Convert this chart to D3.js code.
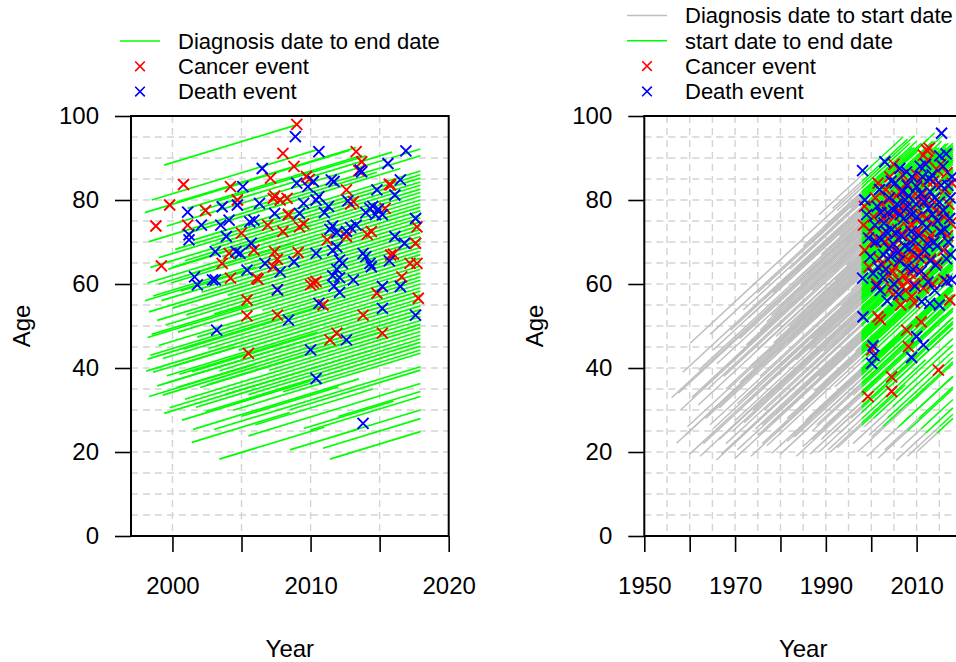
<!DOCTYPE html>
<html>
<head>
<meta charset="utf-8">
<script src="https://cdn.jsdelivr.net/npm/d3@7"></script>
<style>
html,body{margin:0;padding:0;background:#fff;}
svg{display:block;font-family:"Liberation Sans",Arial,Helvetica,sans-serif;}
</style>
</head>
<body>
<svg id="chart" width="956" height="662"></svg>
<script>
// ---------------- DATA ----------------
// Left panel: lines from diagnosis date to end date: [startYear, startAge, endYear]
const leftLines = [
  [1999.4,88.3,2009.0],[1998.5,80.0,2010.5],[2000.3,79.5,2013.3],[1998.0,77.0,2012.8],
  [2001.1,78.0,2013.7],[1999.6,73.8,2015.5],[2002.0,77.5,2015.9],[2015.8,90.0,2017.95],
  [2005.0,77.6,2017.95],[2003.3,79.8,2014.0],[1998.3,70.1,2014.8],[2001.0,72.0,2016.5],
  [2001.5,70.45,2017.95],[2000.2,68.25,2017.95],[1999.0,66.25,2017.95],[2002.8,69.15,2017.95],
  [1998.4,63.95,2017.95],[2000.9,65.55,2017.95],[1999.7,63.55,2017.95],[2003.6,66.55,2017.95],
  [1998.2,60.25,2017.95],[2001.3,62.45,2017.95],[1999.9,60.25,2017.95],[2005.2,64.65,2017.95],
  [1998.6,57.15,2017.95],[2000.6,58.35,2017.95],[1999.2,56.05,2017.95],[2002.1,58.05,2017.95],
  [1998.3,53.35,2017.95],[2000.0,54.25,2017.95],[2004.0,57.35,2017.95],[1998.9,51.35,2017.95],
  [2001.0,52.65,2017.95],[1999.5,50.25,2017.95],[2003.0,52.85,2017.95],[1998.2,47.25,2017.95],
  [2000.4,48.55,2017.95],[2006.5,53.75,2017.95],[1999.0,45.35,2017.95],[2001.8,47.35,2017.95],
  [1998.4,43.05,2017.95],[2000.8,44.55,2017.95],[1999.3,42.25,2017.95],[2002.6,44.65,2017.95],
  [1998.1,39.25,2017.95],[2000.1,40.45,2017.95],[2004.8,44.25,2017.95],[1999.6,38.15,2017.95],
  [2001.4,39.15,2017.95],[1998.9,35.75,2017.95],[2003.4,39.35,2017.95],[2000.3,35.35,2017.95],
  [1999.3,33.55,2017.95],[2002.0,35.35,2017.95],[2007.0,39.45,2017.95],[2000.9,32.55,2017.95],
  [1999.8,30.55,2017.95],[2003.8,33.65,2017.95],[2001.7,30.65,2017.95],[2005.5,33.65,2017.95],
  [2002.4,29.65,2017.95],[2008.0,34.35,2017.95],[2004.4,29.95,2017.95],
  [2003.0,25.35,2017.95],[2008.5,30.05,2017.95],[2005.5,23.85,2017.95],[2012.0,28.45,2017.95],
  [2010.0,25.25,2017.95],[2013.0,25.05,2017.95],[2010.9,20.9,2017.95],[2011.4,18.3,2017.95],
  [1998.2,42.1,2009.5],[1999.6,36.5,2012.5],[1998.3,33.2,2006.0],[1999.4,29.2,2014.5],
  [2000.7,27.6,2010.0],[2001.5,25.4,2013.5],[2001.4,22.3,2008.5],[2003.4,18.3,2011.0],
  [2008.5,20.5,2013.5],[2009.5,25.6,2016.0],[2005.0,28.5,2012.0],[2004.0,31.0,2009.0],
  [2006.0,26.5,2014.5],[2000.5,38.5,2010.5],[2002.5,36.0,2015.0],[1998.6,39.0,2004.5],
  [1998.0,56.0,2006.0],[1999.0,60.0,2008.8],[2000.0,64.0,2010.0],[2001.0,45.0,2011.0],
  [1998.5,48.0,2005.5]
];
// Left panel cancer events: [year, age]
const leftCancer = [
  [1998.8,73.8],[1999.2,64.3],[2000.8,83.7],[1999.8,78.8],[2001.1,74.0],[2002.4,77.5],[2004.2,83.2],
  [2004.7,80.0],[2005.0,72.1],[2003.6,64.9],[2004.1,67.3],[2004.2,61.4],[2005.4,56.2],[2005.4,52.4],
  [2005.5,43.5],[2006.1,61.4],[2005.9,68.1],[2006.9,74.0],[2007.1,85.2],[2007.3,80.4],[2007.8,80.0],
  [2008.3,80.4],[2008.0,91.1],[2008.8,88.0],[2009.0,98.0],[2007.4,67.7],[2007.3,64.1],[2007.6,58.6],
  [2007.6,52.6],[2008.0,72.5],[2008.4,76.4],[2009.2,73.6],[2009.5,74.3],[2009.7,85.6],[2009.9,84.9],
  [2010.2,60.2],[2010.0,59.8],[2010.4,60.6],[2010.9,55.0],[2011.2,70.5],[2011.4,46.7],[2011.9,48.3],
  [2012.6,82.4],[2012.6,71.3],[2013.1,79.6],[2013.3,91.5],[2013.7,89.1],[2013.5,87.0],[2013.8,52.6],
  [2014.4,72.5],[2014.8,57.8],[2015.2,48.3],[2015.4,78.0],[2015.8,83.6],[2015.8,66.9],[2016.0,67.1],
  [2016.6,61.7],[2017.2,64.9],[2017.7,73.6],[2017.6,69.7],[2017.7,64.9],[2017.8,56.6],[2006.2,61.1],
  [2009.1,67.5],[2012.9,79.0],[2014.1,71.8],[2015.7,83.7],[2007.4,81.0],[2008.4,76.6],[2007.6,65.9]
];
// Left panel death events: [year, age]
const leftDeath = [
  [2001.1,77.1],[2001.2,71.7],[2001.2,70.5],[2002.1,74.0],[2001.6,61.7],[2001.8,59.8],[2003.1,67.7],
  [2003.6,78.4],[2003.5,74.0],[2004.1,75.2],[2003.9,71.3],[2002.9,61.0],[2003.1,61.0],[2003.2,49.0],
  [2004.7,78.8],[2005.1,83.2],[2004.6,67.7],[2004.9,67.3],[2005.4,63.3],[2005.6,74.8],[2005.9,75.2],
  [2005.7,69.7],[2006.5,87.5],[2006.3,79.2],[2006.7,64.9],[2007.4,76.8],[2007.8,62.9],[2007.6,58.6],
  [2008.4,51.4],[2008.9,95.1],[2009.0,84.0],[2008.8,65.3],[2009.5,79.2],[2009.2,76.8],[2009.8,83.2],
  [2010.2,84.4],[2010.6,91.5],[2010.4,80.0],[2010.6,80.8],[2010.4,67.3],[2010.0,44.3],[2010.4,37.5],
  [2010.6,55.4],[2011.0,77.0],[2011.3,78.5],[2011.4,73.0],[2011.6,73.8],[2011.9,72.2],[2011.5,84.8],
  [2011.7,84.4],[2011.6,68.0],[2011.9,68.8],[2011.6,62.0],[2011.9,63.5],[2012.1,61.5],[2011.7,59.5],
  [2012.1,58.0],[2012.1,65.7],[2012.3,64.9],[2012.6,46.7],[2012.6,72.5],[2012.9,73.5],[2013.3,74.0],
  [2012.7,79.8],[2013.1,61.0],[2013.6,87.1],[2013.7,86.7],[2013.8,67.3],[2014.0,66.5],[2014.0,77.0],
  [2014.3,78.0],[2014.5,78.5],[2014.7,76.5],[2014.9,77.8],[2015.2,76.5],[2014.3,64.9],[2014.4,64.1],
  [2014.8,82.4],[2015.2,59.4],[2015.2,54.2],[2013.8,26.8],[2015.6,88.7],[2016.1,81.2],[2016.1,71.3],
  [2016.5,84.8],[2016.5,59.4],[2016.8,69.7],[2016.9,91.7],[2017.6,75.6],[2017.6,52.6],[2015.7,65.5]
];
// Right panel subjects: [diagnosisYear, diagnosisAge, startYear, endYear]
const rightSubjects = [
  [1956.0,32.9,1997.9,2016.5],[1957.1,22.1,1997.9,2018.0],[1960.1,45.9,1997.9,2009.5],[1962.3,19.0,1997.9,2018.0],
  [1961.9,31.2,1997.9,2018.0],[1965.2,44.3,1997.9,2012.0],[1965.9,18.1,1997.9,2018.0],[1965.2,25.6,1997.9,2011.0],
  [1971.8,53.8,1997.9,2014.0],[1974.8,57.8,1997.9,2006.0],[1978.4,58.0,1997.9,2016.0],[1988.5,76.5,1997.9,2007.0],
  [1978.1,19.7,1997.9,2018.0],[1985.0,21.3,1997.9,2018.0],[1968.0,22.0,1997.9,2018.0],[1970.5,20.5,1997.9,2018.0],
  [1972.0,27.0,1997.9,2015.0],[1973.5,19.0,1997.9,2018.0],[1975.0,24.0,1997.9,2018.0],[1976.5,30.0,1997.9,2018.0],
  [1977.0,21.5,1997.9,2018.0],[1979.5,25.0,1997.9,2009.0],[1980.0,19.5,1997.9,2018.0],[1981.5,22.5,1997.9,2018.0],
  [1982.0,30.5,1997.9,2018.0],[1983.5,19.0,1997.9,2018.0],[1984.0,25.5,1997.9,2013.5],[1986.5,19.5,1997.9,2018.0],
  [1987.0,23.0,1997.9,2018.0],[1988.5,20.0,1997.9,2018.0],[1989.5,26.0,1997.9,2016.0],[1990.5,20.5,1997.9,2012.0],
  [1991.5,24.5,1997.9,2018.0],[1992.5,21.0,1997.9,2007.5],[1963.5,28.0,1997.9,2018.0],[1964.0,35.0,1997.9,2018.0],
  [1966.5,30.5,1997.9,2018.0],[1967.5,38.0,1997.9,2018.0],[1968.5,33.5,1997.9,2010.5],[1969.5,42.0,1997.9,2018.0],
  [1970.0,27.5,1997.9,2018.0],[1971.0,36.5,1997.9,2018.0],[1972.5,45.5,1997.9,2018.0],[1973.0,32.0,1997.9,2018.0],
  [1974.0,40.0,1997.9,2008.0],[1975.5,49.0,1997.9,2018.0],[1976.0,35.5,1997.9,2018.0],[1977.5,44.0,1997.9,2018.0],
  [1978.0,52.5,1997.9,2011.5],[1979.0,38.0,1997.9,2018.0],[1980.5,47.5,1997.9,2018.0],[1981.0,56.0,1997.9,2018.0],
  [1982.5,41.5,1997.9,2014.5],[1983.0,51.0,1997.9,2018.0],[1984.5,60.0,1997.9,2018.0],[1985.5,45.0,1997.9,2018.0],
  [1986.0,54.5,1997.9,2005.5],[1987.5,64.0,1997.9,2017.0],[1988.0,48.5,1997.9,2018.0],[1989.0,57.5,1997.9,2018.0],
  [1990.0,67.5,1997.9,2013.0],[1991.0,52.0,1997.9,2018.0],[1992.0,61.0,1997.9,2018.0],[1993.0,71.5,1997.9,2015.5],
  [1993.5,55.0,1997.9,2018.0],[1994.5,64.5,1997.9,2009.5],[1995.0,75.0,1997.9,2012.5],[1995.5,58.5,1997.9,2018.0],
  [1996.5,68.5,1997.9,2018.0],[1996.0,77.5,1997.9,2010.0],[1997.0,81.0,1997.9,2004.5],[1994.0,79.0,1997.9,2008.5],
  [1991.5,78.0,1997.9,2008.0],[1966.0,41.0,1997.9,2017.0],[1962.0,39.5,1997.9,2014.0],[1969.0,49.0,1997.9,2011.0],
  [1958.5,39.0,1997.9,2013.5],[1964.5,48.0,1997.9,2009.0],[1985.0,69.0,1997.9,2006.5],[1990.5,40.0,1997.9,2018.0],
  [1992.0,44.5,1997.9,2018.0],[1993.5,48.0,1997.9,2018.0],[1995.0,51.5,1997.9,2018.0],[1996.5,37.5,1997.9,2018.0],
  [1994.5,33.0,1997.9,2018.0],[1987.5,34.5,1997.9,2018.0],[1983.0,33.5,1997.9,2018.0],[1979.0,29.0,1997.9,2018.0],
  [1974.5,25.5,1997.9,2018.0],[1970.0,18.5,1997.9,2018.0],[1967.0,19.5,1997.9,2018.0],[1963.0,22.0,1997.9,2018.0],
  [1959.5,26.0,1997.9,2018.0],[1960.5,33.0,1997.9,2018.0],[1958.0,30.0,1997.9,2018.0],[1969.5,25.0,1997.9,2018.0],
  [1981.0,37.0,1997.9,2018.0],[1986.0,39.5,1997.9,2018.0],[1989.0,30.5,1997.9,2018.0],[1976.0,22.0,1997.9,2018.0],
  [1995.5,28.0,1997.9,2018.0],[1993.0,24.5,1997.9,2018.0],
  [1975.5,38.0,1997.9,2018.0],[1977.0,33.0,1997.9,2018.0],[1978.5,46.0,1997.9,2012.5],[1980.0,36.0,1997.9,2018.0],
  [1980.5,55.0,1997.9,2018.0],[1981.5,28.0,1997.9,2018.0],[1982.0,50.0,1997.9,2018.0],[1983.5,42.0,1997.9,2016.5],
  [1984.0,58.5,1997.9,2018.0],[1984.5,31.0,1997.9,2018.0],[1985.0,50.5,1997.9,2018.0],[1986.0,62.5,1997.9,2011.0],
  [1986.5,28.5,1997.9,2018.0],[1987.0,47.0,1997.9,2018.0],[1988.0,56.0,1997.9,2018.0],[1988.5,38.0,1997.9,2018.0],
  [1989.0,67.0,1997.9,2014.5],[1989.5,44.0,1997.9,2018.0],[1990.0,55.5,1997.9,2007.0],[1990.5,30.0,1997.9,2018.0],
  [1991.0,62.5,1997.9,2018.0],[1991.5,45.5,1997.9,2018.0],[1992.0,35.5,1997.9,2018.0],[1992.5,57.0,1997.9,2018.0],
  [1993.0,66.0,1997.9,2016.0],[1993.5,40.0,1997.9,2018.0],[1994.0,52.5,1997.9,2018.0],[1994.5,70.0,1997.9,2017.5],
  [1995.0,44.0,1997.9,2018.0],[1995.5,62.0,1997.9,2018.0],[1996.0,33.5,1997.9,2018.0],[1996.5,55.0,1997.9,2010.5],
  [1997.0,71.0,1997.9,2018.0],[1997.0,47.0,1997.9,2018.0],[1997.3,62.0,1997.9,2018.0],[1971.5,24.0,1997.9,2018.0],
  [1972.5,33.5,1997.9,2018.0],[1973.5,40.5,1997.9,2013.0],[1974.0,30.0,1997.9,2018.0],[1975.0,44.5,1997.9,2018.0],
  [1976.0,26.5,1997.9,2018.0],[1977.0,51.0,1997.9,2018.0],[1978.0,27.0,1997.9,2018.0],[1979.0,47.5,1997.9,2018.0],
  [1980.0,40.5,1997.9,2018.0],[1981.5,46.0,1997.9,2009.5],[1982.5,24.0,1997.9,2018.0],[1983.5,61.0,1997.9,2015.0],
  [1985.5,36.0,1997.9,2018.0],[1986.5,44.5,1997.9,2018.0],[1987.0,58.5,1997.9,2018.0],[1988.0,26.5,1997.9,2018.0],
  [1989.5,36.5,1997.9,2018.0],[1990.5,48.0,1997.9,2018.0],[1991.5,33.0,1997.9,2018.0],[1992.5,68.5,1997.9,2016.0],
  [1994.0,28.0,1997.9,2018.0],[1995.5,36.0,1997.9,2018.0],[1996.0,64.5,1997.9,2018.0],[1996.5,44.0,1997.9,2018.0],
  [1970.5,31.5,1997.9,2018.0],[1968.0,35.0,1997.9,2018.0],[1966.5,23.0,1997.9,2018.0],[1964.5,26.5,1997.9,2018.0],
  [1962.5,35.0,1997.9,2018.0],[1960.0,19.5,1997.9,2018.0],[1959.0,24.0,1997.9,2018.0],[1957.5,34.0,1997.9,2015.0],
  [1971.0,47.0,1997.9,2016.5],[1973.0,52.0,1997.9,2013.5],[1976.5,56.5,1997.9,2012.0],[1980.0,60.0,1997.9,2014.0],
  [1982.0,63.5,1997.9,2010.5],[1984.0,66.0,1997.9,2012.5],[1986.5,69.5,1997.9,2009.5],[1989.5,73.5,1997.9,2010.0],
  [1992.5,77.5,1997.9,2006.5],[1995.5,78.0,1997.9,2011.0],[1987.0,25.0,1997.9,2018.0],[1989.0,23.0,1997.9,2018.0],
  [1991.0,20.0,1997.9,2018.0],[1985.5,27.5,1997.9,2018.0],[1983.0,23.5,1997.9,2018.0],
  [1999.0,19.0,2006.5,2018.0],[2001.5,18.5,2008.0,2018.0],[1996.0,22.0,2004.8,2018.0],[2003.0,20.5,2010.5,2018.0],
  [2005.5,18.0,2012.0,2018.0],[2000.0,23.5,2002.6,2018.0],[1998.5,26.0,2000.5,2018.0],[2008.0,19.0,2015.0,2018.0],
  [2010.0,20.0,2014.5,2018.0],[1997.0,20.0,2008.5,2018.0],[2002.5,22.5,2006.0,2018.0],[1999.5,24.0,2003.5,2018.0],
  [2006.5,21.0,2011.0,2018.0]
];
// Right panel cancer events: [year, age]
const rightCancer = [
  [1999.3,33.2],[2004.5,37.9],[2004.5,34.4],[2014.8,39.5],[2007.8,49.0],[2008.2,45.1],[2000.1,44.3],
  [2001.5,52.2],[2002.0,51.5],[2011.0,51.0],[2017.3,56.2],[2012.2,91.9],[2011.5,90.7],[2012.8,92.3],
  [1998.5,78.5],[1998.3,74.0],[1998.6,68.0],[1999.8,72.5],[2000.5,76.0],[2000.9,80.5],[2001.5,84.0],
  [2002.3,79.0],[2002.8,75.5],[2003.0,70.0],[2003.5,66.0],[2003.9,62.0],[2004.4,59.0],[2004.8,57.5],
  [2005.2,64.0],[2005.5,68.5],[2005.8,73.0],[2006.0,77.5],[2006.4,82.0],[2006.9,86.0],[2007.2,62.0],
  [2007.6,58.5],[2008.0,60.5],[2008.3,65.5],[2008.7,70.0],[2009.0,74.0],[2009.3,78.0],[2009.7,81.5],
  [2010.0,86.0],[2010.3,63.0],[2010.7,67.5],[2011.1,72.0],[2011.5,76.5],[2011.9,80.0],[2012.3,84.5],
  [2012.7,70.5],[2013.1,66.0],[2013.5,74.5],[2013.9,79.5],[2014.3,83.5],[2014.7,87.0],[2015.1,77.0],
  [2015.5,72.5],[2015.9,68.0],[2016.3,82.5],[2016.7,86.5],[2017.1,79.0],[2017.5,74.5],[2017.8,84.0],
  [2009.5,55.5],[2008.9,57.0],[2006.5,55.0],[2003.2,82.5],[2004.1,85.5],[2005.0,88.5],[2001.2,60.0],
  [2002.5,64.5],[1999.5,64.0],[2000.3,70.0],[2007.0,71.5],[2008.5,76.0],[2010.5,79.5],[2012.0,62.0],
  [2013.5,60.0],[2014.5,65.0],[2016.0,61.0],[2006.0,61.0],[2007.5,66.5],[2009.9,69.0],[2011.5,59.0],
  [2001.8,66.0],[2002.6,72.0],[2003.3,76.5],[2003.8,80.0],[2004.2,69.0],[2004.7,63.0],[2005.1,76.0],
  [2005.6,81.0],[2006.1,70.5],[2006.5,66.5],[2006.8,59.5],[2007.3,78.5],[2007.8,84.0],[2008.1,73.5],
  [2008.6,62.5],[2009.1,67.0],[2009.4,60.0],[2009.8,75.5],[2010.2,72.5],[2010.6,84.5],[2011.0,66.0],
  [2011.4,81.5],[2012.0,75.5],[2012.5,89.5],[2013.0,71.5],[2013.7,84.5],[2014.2,77.5],[2015.3,88.5],
  [2016.1,76.0],[2016.8,71.5]
];
// Right panel death events: [year, age]
const rightDeath = [
  [1998.1,87.0],[2003.0,89.1],[2006.3,87.5],[2007.8,86.7],[2015.5,95.9],[2015.1,90.5],[1998.1,61.4],
  [1998.2,52.2],[2000.4,45.3],[2000.1,41.1],[2000.6,43.0],[2001.2,59.4],[2002.0,58.5],[2008.9,42.5],
  [2011.5,45.5],[2010.0,47.5],[2011.1,55.8],[2012.9,55.4],[2016.6,60.6],[2017.3,75.6],[2017.7,61.0],
  [2010.0,83.2],[1998.6,80.0],[1999.0,76.5],[1999.4,71.0],[1999.8,66.5],[2000.4,62.5],[2000.8,74.0],
  [2001.3,78.5],[2001.8,82.5],[2002.2,70.5],[2002.7,67.0],[2003.2,63.5],[2003.6,77.0],[2004.0,80.5],
  [2004.5,73.0],[2004.9,69.5],[2005.3,84.0],[2005.7,79.0],[2006.2,65.5],[2006.6,71.5],[2007.1,75.5],
  [2007.5,80.0],[2007.9,83.5],[2008.4,68.5],[2008.8,72.5],[2009.2,63.5],[2009.6,59.5],[2010.1,76.0],
  [2010.5,71.5],[2010.9,81.5],[2011.3,85.5],[2011.8,68.0],[2012.2,73.5],[2012.6,78.0],[2013.0,82.0],
  [2013.4,86.0],[2013.8,70.0],[2014.2,64.5],[2014.6,75.0],[2015.0,79.5],[2015.4,83.5],[2015.8,88.0],
  [2016.2,73.0],[2016.6,66.0],[2017.0,70.0],[2017.4,80.5],[2017.8,85.5],[2014.0,58.5],[2015.0,55.0],
  [2012.5,60.5],[2011.0,63.0],[2006.0,57.5],[2005.0,60.0],[2003.5,56.0],[2002.8,74.5],[2001.0,70.0],
  [2009.0,85.5],[2012.0,88.5],[2016.5,91.0],[2008.0,78.5],[2013.0,65.5],[2004.3,66.5],
  [2001.5,64.0],[2002.1,77.0],[2002.6,61.5],[2003.3,72.5],[2003.9,68.5],[2004.4,84.5],[2004.9,77.5],
  [2005.4,72.0],[2005.9,67.5],[2006.4,76.5],[2006.9,82.0],[2007.4,69.0],[2007.9,64.0],[2008.3,81.0],
  [2008.9,76.5],[2009.4,70.5],[2009.9,79.0],[2010.4,66.5],[2010.8,88.0],[2011.3,74.5],[2011.7,79.5],
  [2012.4,69.5],[2012.9,85.0],[2013.5,76.5],[2014.0,80.5],[2014.5,69.0],[2015.2,72.5],[2015.9,77.5],
  [2016.9,83.5],[2017.5,67.0]
];
// Axis ticks
const ageTicks = [0, 20, 40, 60, 80, 100];
const leftYearTicks = [2000, 2005, 2010, 2015, 2020];
const leftYearLabels = [2000, 2010, 2020];
const rightYearTicks = [1950, 1960, 1970, 1980, 1990, 2000, 2010, 2020];
const rightYearLabels = [1950, 1970, 1990, 2010];
const gridAges = [5,10,15,20,25,30,35,40,45,50,55,60,65,70,75,80,85,90,95];
const leftGridYears = [2000, 2005, 2010, 2015];
const rightGridYears = [1955,1960,1965,1970,1975,1980,1985,1990,1995,2000,2005,2010,2015];
const leftLegend = [
  {type:"line", color:"#00FF00", label:"Diagnosis date to end date"},
  {type:"cross", color:"#FF0000", label:"Cancer event"},
  {type:"cross", color:"#0000FF", label:"Death event"}
];
const rightLegend = [
  {type:"line", color:"#BEBEBE", label:"Diagnosis date to start date"},
  {type:"line", color:"#00FF00", label:"start date to end date"},
  {type:"cross", color:"#FF0000", label:"Cancer event"},
  {type:"cross", color:"#0000FF", label:"Death event"}
];

// ---------------- DRAW ----------------
const svg = d3.select("#chart");
const plotTop = 116, plotBottom = 536;
const y = d3.scaleLinear().domain([0, 100]).range([plotBottom, plotTop]);
const GREEN = "#00FF00", GREY = "#BEBEBE", RED = "#FF0000", BLUE = "#0000FF";
const crossPath = s => `M${-s},${-s}L${s},${s}M${-s},${s}L${s},${-s}`;

function panel(opts) {
  const x = d3.scaleLinear().domain(opts.xDomain).range(opts.xRange);
  const g = svg.append("g");
  const clipId = "clip" + opts.id;
  svg.append("clipPath").attr("id", clipId).append("rect")
    .attr("x", opts.xRange[0]).attr("y", plotTop)
    .attr("width", opts.xRange[1] - opts.xRange[0]).attr("height", plotBottom - plotTop);
  const plot = g.append("g").attr("clip-path", `url(#${clipId})`);

  // grid
  plot.append("g").selectAll("line").data(opts.gridYears).join("line")
    .attr("x1", d => x(d)).attr("x2", d => x(d)).attr("y1", plotTop).attr("y2", plotBottom)
    .attr("stroke", "#D3D3D3").attr("stroke-width", 1.4).attr("stroke-dasharray", "7,5");
  plot.append("g").selectAll("line").data(gridAges).join("line")
    .attr("x1", opts.xRange[0]).attr("x2", opts.xRange[1]).attr("y1", d => y(d)).attr("y2", d => y(d))
    .attr("stroke", "#D3D3D3").attr("stroke-width", 1.4).attr("stroke-dasharray", "7,5");

  opts.draw(plot, x);

  // crosses
  plot.append("g").selectAll("path").data(opts.cancer).join("path")
    .attr("transform", d => `translate(${x(d[0])},${y(d[1])})`)
    .attr("d", crossPath(5.5)).attr("stroke", RED).attr("stroke-width", 1.9).attr("fill", "none");
  plot.append("g").selectAll("path").data(opts.death).join("path")
    .attr("transform", d => `translate(${x(d[0])},${y(d[1])})`)
    .attr("d", crossPath(5.5)).attr("stroke", BLUE).attr("stroke-width", 1.9).attr("fill", "none");

  // axes
  const xAxis = d3.axisBottom(x).tickValues(opts.xTicks).tickSize(16).tickPadding(25)
    .tickFormat(d => opts.xLabels.includes(d) ? String(d) : "");
  const gx = g.append("g").attr("transform", `translate(0,${plotBottom})`).call(xAxis);
  const yAxis = d3.axisLeft(y).tickValues(ageTicks).tickSize(16).tickPadding(16).tickFormat(d => String(d));
  const gy = g.append("g").attr("transform", `translate(${opts.xRange[0]},0)`).call(yAxis);
  [gx, gy].forEach(a => {
    a.select(".domain").remove();
    a.selectAll(".tick line").attr("stroke", "#000").attr("stroke-width", 1.6);
    a.selectAll(".tick text").attr("fill", "#000").style("font-size", "24px")
      .style("font-family", '"Liberation Sans", Arial, sans-serif');
  });

  // box
  g.append("rect").attr("x", opts.xRange[0]).attr("y", plotTop)
    .attr("width", opts.xRange[1] - opts.xRange[0]).attr("height", plotBottom - plotTop)
    .attr("fill", "none").attr("stroke", "#000").attr("stroke-width", 2);

  // axis titles
  g.append("text").attr("x", (opts.xRange[0] + opts.xRange[1]) / 2).attr("y", 657)
    .attr("text-anchor", "middle").style("font-size", "24px").text("Year");
  g.append("text").attr("transform", `translate(${opts.xRange[0] - 101},${(plotTop + plotBottom) / 2}) rotate(-90)`)
    .attr("text-anchor", "middle").style("font-size", "24px").text("Age");

  // legend
  const lg = svg.append("g");
  opts.legend.forEach((item, i) => {
    const cy = opts.legendY0 + i * 25.3;
    if (item.type === "line") {
      lg.append("line").attr("x1", opts.legendX).attr("x2", opts.legendX + 40)
        .attr("y1", cy).attr("y2", cy).attr("stroke", item.color).attr("stroke-width", 1.6);
    } else {
      lg.append("path").attr("transform", `translate(${opts.legendX + 20},${cy})`)
        .attr("d", crossPath(4.8)).attr("stroke", item.color).attr("stroke-width", 1.6).attr("fill", "none");
    }
    lg.append("text").attr("x", opts.legendX + 58).attr("y", cy + 7.8)
      .style("font-size", "22px").attr("fill", "#000").text(item.label);
  });
}

// Left panel
panel({
  id: "L", xDomain: [1997, 2020], xRange: [131, 448.7],
  gridYears: leftGridYears, xTicks: leftYearTicks, xLabels: leftYearLabels,
  cancer: leftCancer, death: leftDeath,
  legend: leftLegend, legendX: 120, legendY0: 41,
  draw: (plot, x) => {
    plot.append("g").selectAll("line").data(leftLines).join("line")
      .attr("x1", d => x(d[0])).attr("y1", d => y(d[1]))
      .attr("x2", d => x(d[2])).attr("y2", d => y(d[1] + (d[2] - d[0])))
      .attr("stroke", GREEN).attr("stroke-width", 1.7);
  }
});

// Right panel
panel({
  id: "R", xDomain: [1950, 2020], xRange: [644.3, 962],
  gridYears: rightGridYears, xTicks: rightYearTicks, xLabels: rightYearLabels,
  cancer: rightCancer, death: rightDeath,
  legend: rightLegend, legendX: 627, legendY0: 15.5,
  draw: (plot, x) => {
    plot.append("g").selectAll("line").data(rightSubjects).join("line")
      .attr("x1", d => x(d[0])).attr("y1", d => y(d[1]))
      .attr("x2", d => x(d[2])).attr("y2", d => y(d[1] + (d[2] - d[0])))
      .attr("stroke", GREY).attr("stroke-width", 1.5);
    plot.append("g").selectAll("line").data(rightSubjects).join("line")
      .attr("x1", d => x(d[2])).attr("y1", d => y(d[1] + (d[2] - d[0])))
      .attr("x2", d => x(d[3])).attr("y2", d => y(d[1] + (d[3] - d[0])))
      .attr("stroke", GREEN).attr("stroke-width", 1.5);
  }
});
</script>
</body>
</html>
